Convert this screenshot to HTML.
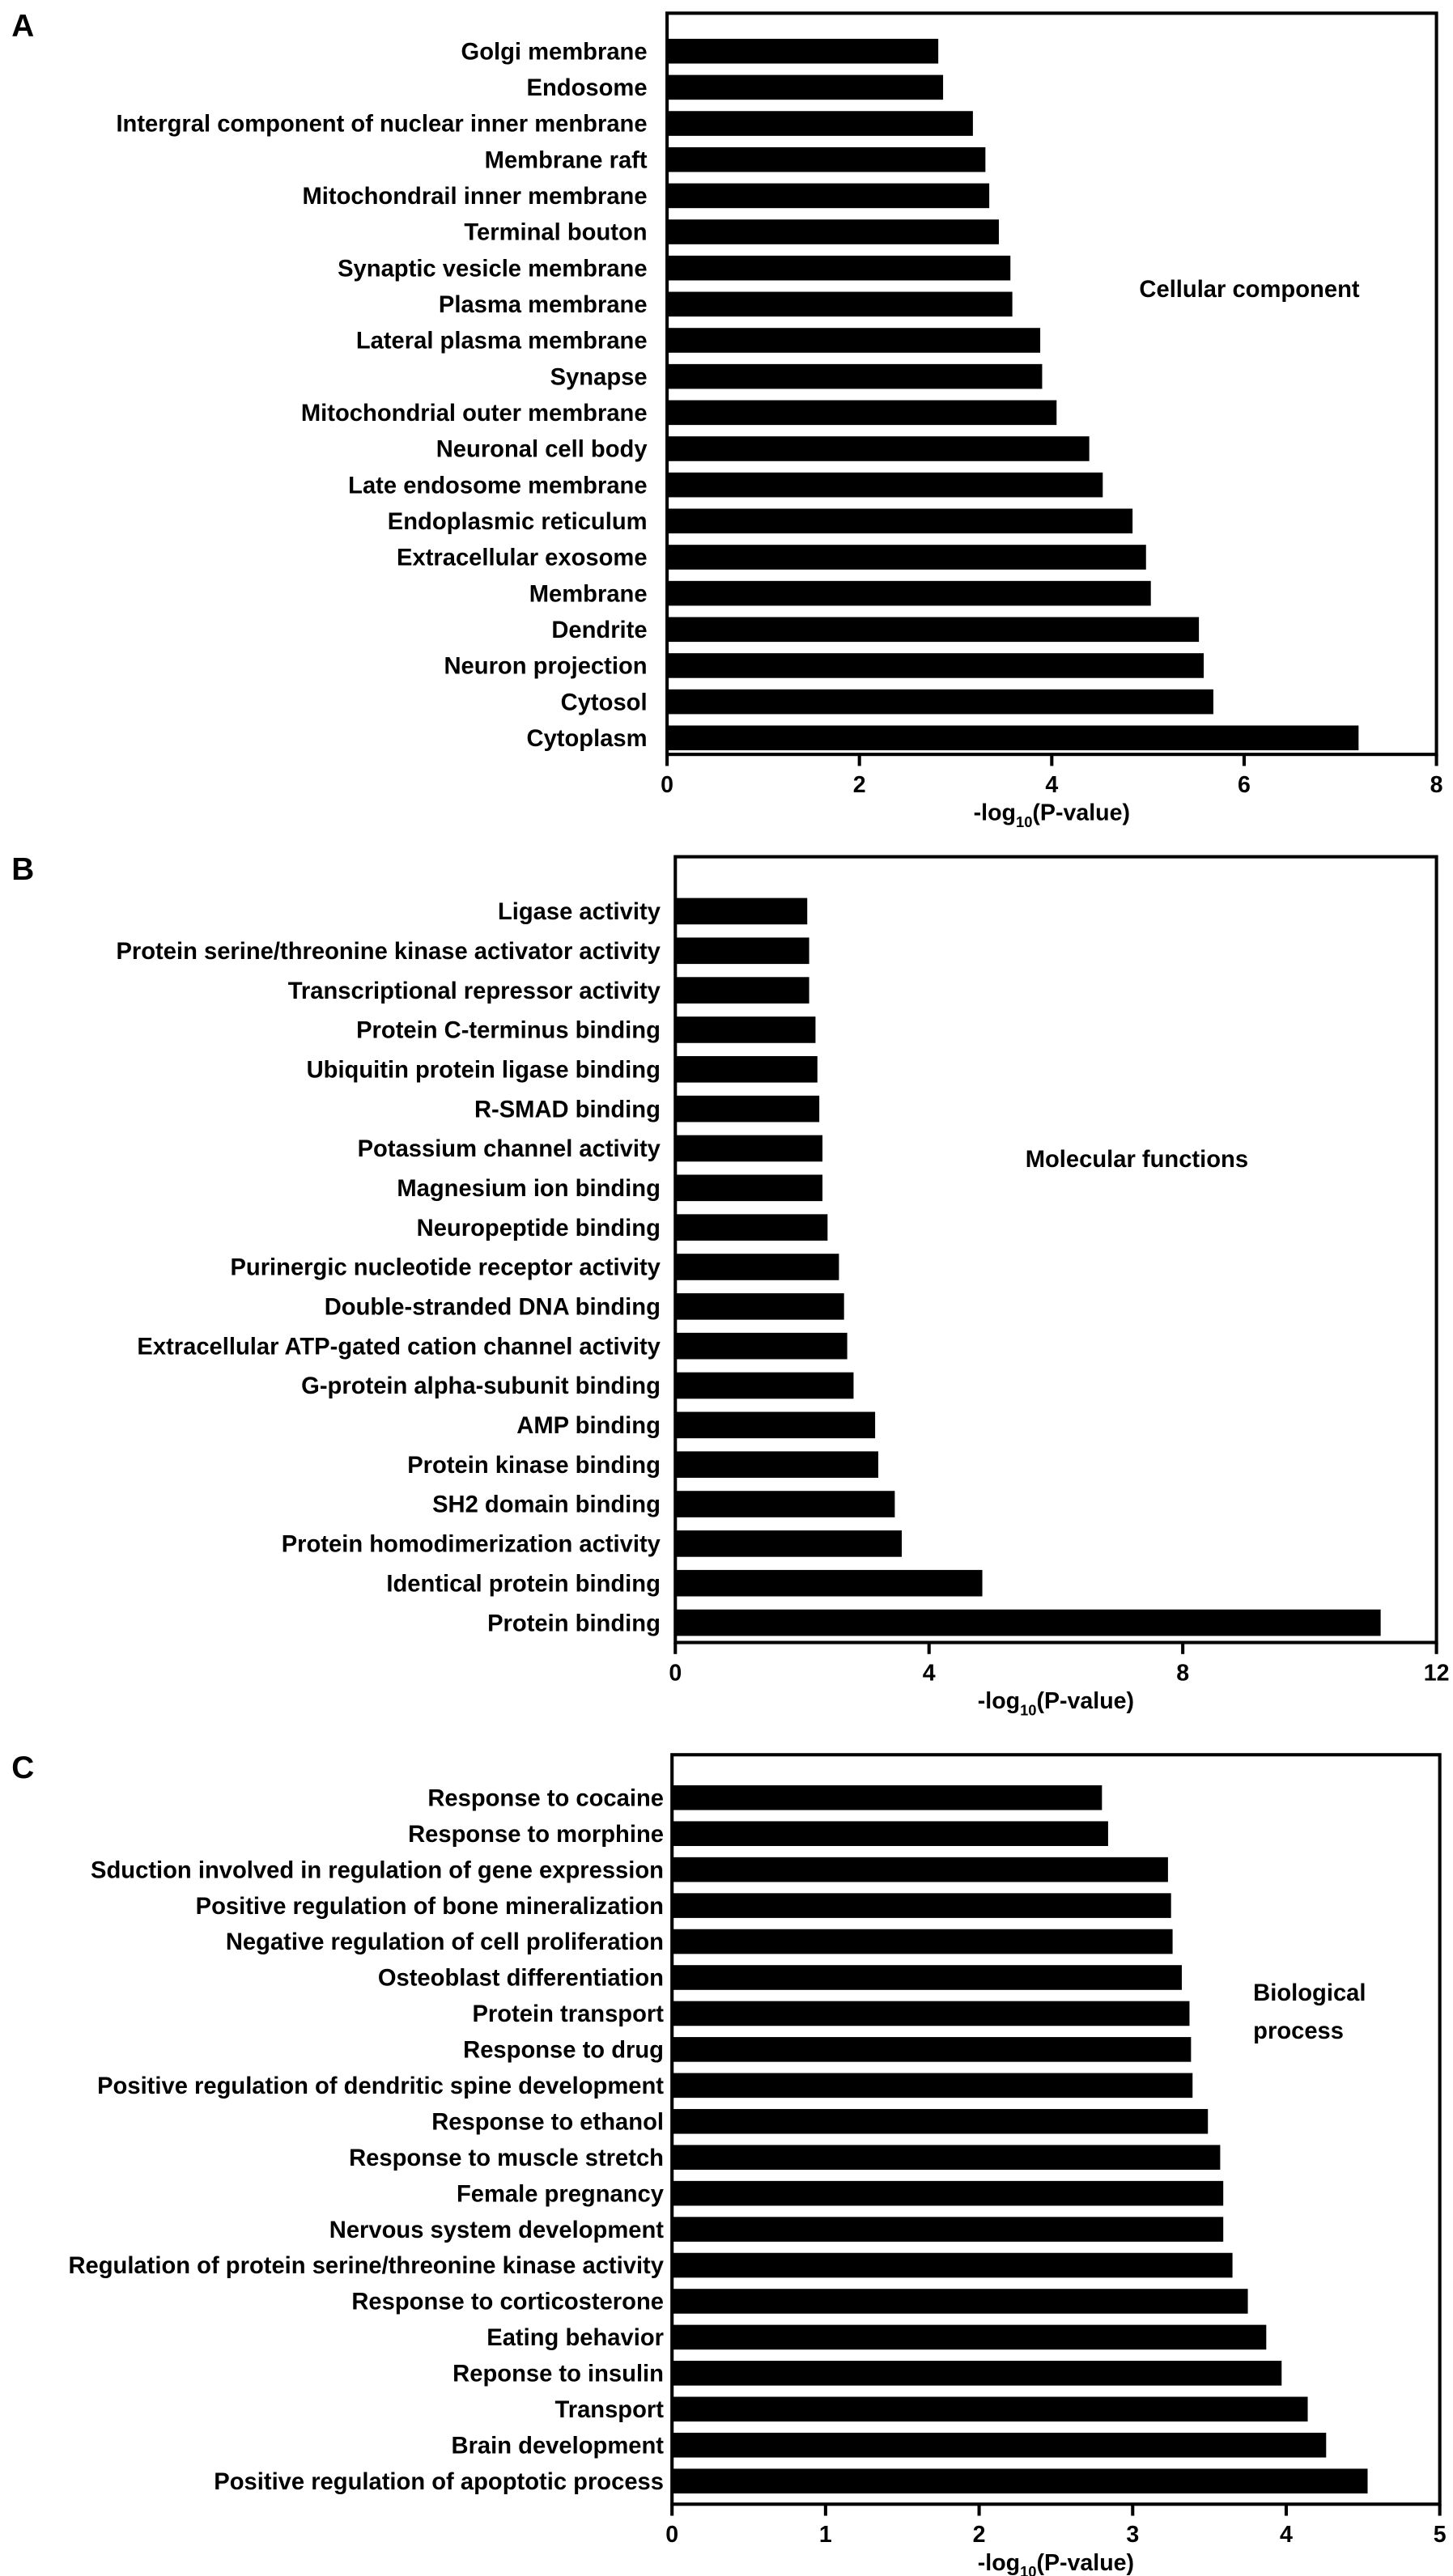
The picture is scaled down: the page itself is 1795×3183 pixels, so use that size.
<!DOCTYPE html>
<html><head><meta charset="utf-8"><style>
html,body{margin:0;padding:0;background:#fff;}
svg{display:block;}
text{font-family:"Liberation Sans",sans-serif;font-weight:bold;fill:#000;}
</style></head><body>
<svg id="fig" width="1795" height="3183" viewBox="0 0 880 1560.5" xmlns="http://www.w3.org/2000/svg"></svg>
<script>
const ccCategories=["Golgi membrane","Endosome","Intergral component of nuclear inner menbrane","Membrane raft","Mitochondrail inner membrane","Terminal bouton","Synaptic vesicle membrane","Plasma membrane","Lateral plasma membrane","Synapse","Mitochondrial outer membrane","Neuronal cell body","Late endosome membrane","Endoplasmic reticulum","Extracellular exosome","Membrane","Dendrite","Neuron projection","Cytosol","Cytoplasm"];
const ccValues=[2.82,2.87,3.18,3.31,3.35,3.45,3.57,3.59,3.88,3.90,4.05,4.39,4.53,4.84,4.98,5.03,5.53,5.58,5.68,7.19];
const ccTicks=[0,2,4,6,8];
const mfCategories=["Ligase activity","Protein serine/threonine kinase activator activity","Transcriptional repressor activity","Protein C-terminus binding","Ubiquitin protein ligase binding","R-SMAD binding","Potassium channel activity","Magnesium ion binding","Neuropeptide binding","Purinergic nucleotide receptor activity","Double-stranded DNA binding","Extracellular ATP-gated cation channel activity","G-protein alpha-subunit binding","AMP binding","Protein kinase binding","SH2 domain binding","Protein homodimerization activity","Identical protein binding","Protein binding"];
const mfValues=[2.08,2.11,2.11,2.21,2.24,2.27,2.32,2.32,2.40,2.58,2.66,2.71,2.81,3.15,3.20,3.46,3.57,4.84,11.12];
const mfTicks=[0,4,8,12];
const bpCategories=["Response to cocaine","Response to  morphine","Sduction involved in regulation of gene expression","Positive regulation of bone mineralization","Negative regulation of cell proliferation","Osteoblast differentiation","Protein transport","Response to drug","Positive regulation of dendritic spine development","Response to ethanol","Response to muscle stretch","Female pregnancy","Nervous system development","Regulation of protein serine/threonine kinase activity","Response to corticosterone","Eating behavior","Reponse to insulin","Transport","Brain development","Positive regulation of apoptotic process"];
const bpValues=[2.80,2.84,3.23,3.25,3.26,3.32,3.37,3.38,3.39,3.49,3.57,3.59,3.59,3.65,3.75,3.87,3.97,4.14,4.26,4.53];
const bpTicks=[0,1,2,3,4,5];

const NS="http://www.w3.org/2000/svg";
const svg=document.getElementById('fig');
function mk(tag,attrs,parent){const e=document.createElementNS(NS,tag);for(const k in attrs)e.setAttribute(k,attrs[k]);(parent||svg).appendChild(e);return e;}

function panel(cfg,cats,vals,ticks){
  const g=mk('g',{});
  
  
  const max=ticks[ticks.length-1];
  const x=v=>cfg.left+(cfg.right-cfg.left)*v/max;
  const step=(cfg.lastY-cfg.firstY)/(cats.length-1);
  const y=i=>cfg.firstY+i*step;
  const frame=mk('rect',{x:cfg.left,y:cfg.top,width:cfg.right-cfg.left,height:cfg.bottom-cfg.top,fill:'none',stroke:'#000','stroke-width':2},g);
  
  
  cats.forEach((c,i)=>{
    const r=mk('rect',{x:x(0),y:y(i)-cfg.bh/2,width:x(vals[i])-x(0),height:cfg.bh,fill:'#000'},g);
    
    
    const t=mk('text',{x:cfg.labelX,y:y(i)+5,'text-anchor':'end','font-size':14.3},g);
    t.textContent=c;
    
    
  });
  ticks.forEach(v=>{
    const l=mk('line',{x1:x(v),x2:x(v),y1:cfg.bottom,y2:cfg.bottom+7,stroke:'#000','stroke-width':2},g);
    
    
    const t=mk('text',{x:x(v),y:cfg.bottom+23,'text-anchor':'middle','font-size':14},g);
    t.textContent=v;
    
    
  });
  const xt=mk('text',{x:(cfg.left+cfg.right)/2,y:cfg.bottom+40,'text-anchor':'middle','font-size':14},g);
  
  
  xt.appendChild(document.createTextNode('-log'));
  const sub=mk('tspan',{'font-size':9,dy:4},xt);sub.textContent='10';
  const rest=mk('tspan',{dy:-4},xt);rest.textContent='(P-value)';
  const L=mk('text',{x:7,y:cfg.top+14,'font-size':19},g);
  L.textContent=cfg.letter;
  
  
  cfg.note.forEach((s,k)=>{
    const n=mk('text',{x:cfg.noteX,y:cfg.noteY+k*23,'font-size':14.3},g);
    n.textContent=s;
    
    
  });
}
panel({name:'cellular-component-chart',letter:'A',left:404,right:870,top:8,bottom:457,firstY:31,lastY:447,bh:15,labelX:392,noteX:690,noteY:180,note:['Cellular component']},ccCategories,ccValues,ccTicks);
panel({name:'molecular-function-chart',letter:'B',left:409,right:870,top:519,bottom:995,firstY:552,lastY:983,bh:16,labelX:400,noteX:621,noteY:707,note:['Molecular functions']},mfCategories,mfValues,mfTicks);
panel({name:'biological-process-chart',letter:'C',left:407,right:872,top:1063,bottom:1517,firstY:1089,lastY:1503,bh:15,labelX:402,noteX:759,noteY:1212,note:['Biological','process']},bpCategories,bpValues,bpTicks);
</script>
</body></html>
